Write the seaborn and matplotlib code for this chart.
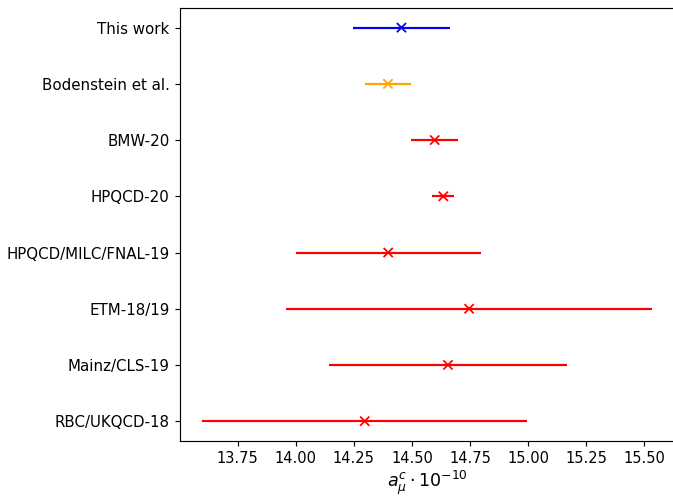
import pandas as pd
import matplotlib
matplotlib.use('Agg')
import matplotlib.pyplot as plt
import seaborn as sns
import numpy as np

labels = ['This work', 'Bodenstein et al.', 'BMW-20', 'HPQCD-20',
          'HPQCD/MILC/FNAL-19', 'ETM-18/19', 'Mainz/CLS-19', 'RBC/UKQCD-18']
values = [14.455, 14.397, 14.598, 14.635, 14.398, 14.746, 14.655, 14.297]
errors = [0.208, 0.100, 0.100, 0.048, 0.398, 0.786, 0.510, 0.699]
colors = ['blue', 'orange', 'red', 'red', 'red', 'red', 'red', 'red']

df = pd.DataFrame({'label': labels, 'value': values, 'err': errors, 'color': colors})
# top row first, so put it at the highest y position
df['pos'] = np.arange(len(df))[::-1]

fig = plt.figure(figsize=(673 / 105, 497 / 105), dpi=105)
ax = fig.add_axes([0.267, 0.113, 0.735, 0.871])

for _, row in df.iterrows():
    ax.errorbar(row['value'], row['pos'], xerr=row['err'], fmt='none',
                ecolor=row['color'], elinewidth=1.5)

sns.scatterplot(data=df, x='value', y='pos', hue='label',
                palette=dict(zip(df['label'], df['color'])),
                marker='x', s=40, linewidth=1.2, legend=False, ax=ax, zorder=3)

ax.set_yticks(df['pos'])
ax.set_yticklabels(df['label'], fontsize=10.3)
ax.set_xticks([13.75, 14.0, 14.25, 14.5, 14.75, 15.0, 15.25, 15.5])
ax.set_xlabel(r'$a_\mu^c \cdot 10^{-10}$', fontsize=12, labelpad=2)
ax.set_ylabel('')
ax.margins(x=0.05, y=0.05)

plt.savefig('out.png', dpi=105)
plt.close()
